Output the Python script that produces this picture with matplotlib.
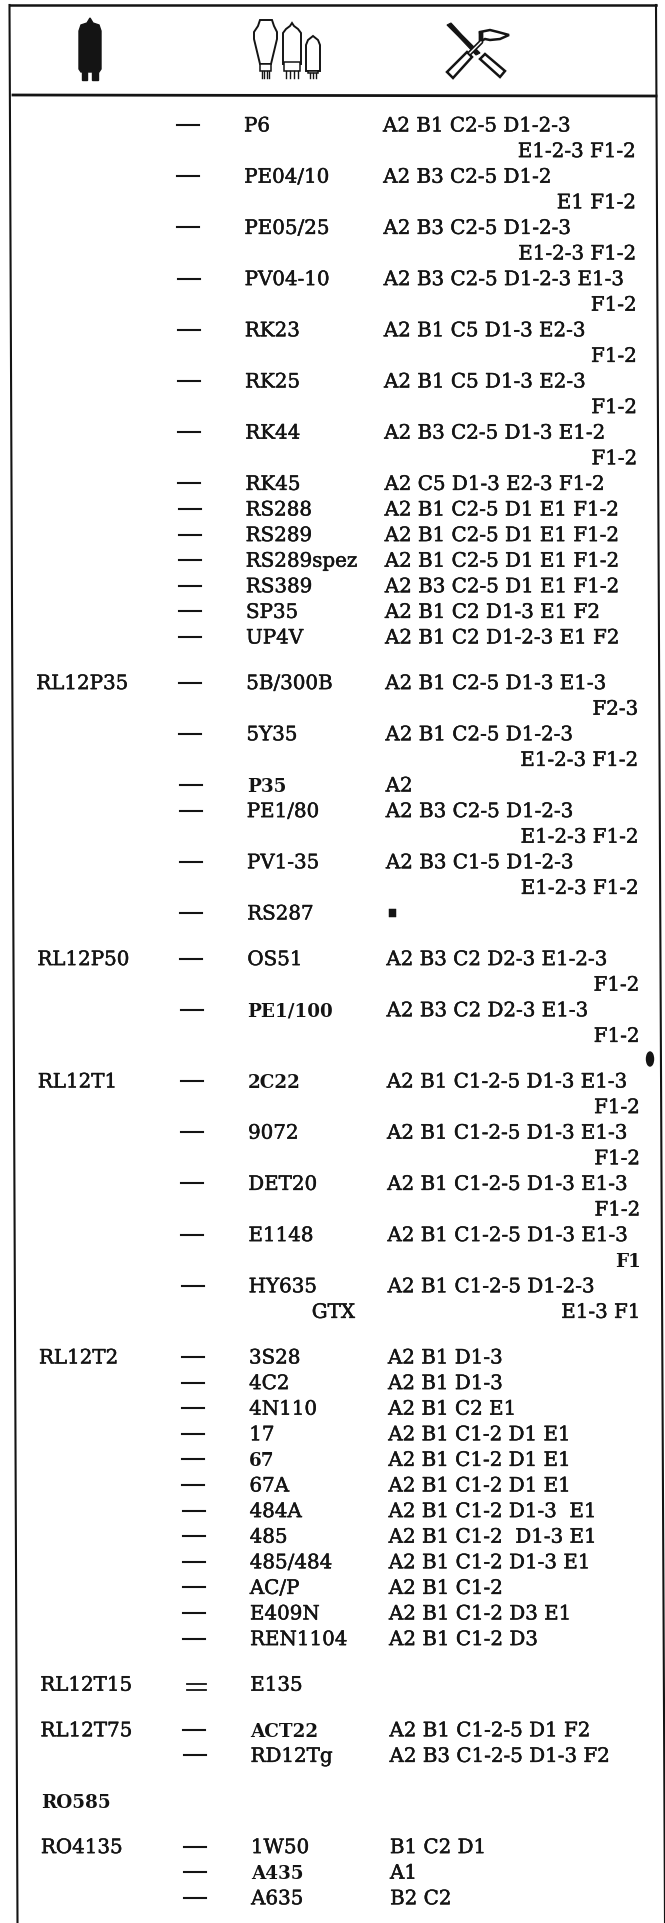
import matplotlib
matplotlib.use('Agg')
import matplotlib.pyplot as plt
from matplotlib.patches import Polygon, FancyBboxPatch, Rectangle, Ellipse
import matplotlib.patheffects as pe

# Table content, one entry per tube
group_labels = ['', '', '', '', '', '', '', '', '', '', '', '', '', '',
                'RL12P35', '', '', '', '', '',
                'RL12P50', '',
                'RL12T1', '', '', '', '',
                'RL12T2', '', '', '', '', '', '', '', '', '', '', '',
                'RL12T15', 'RL12T75', '', 'RO585', 'RO4135', '', '']
tube_names = ['P6', 'PE04/10', 'PE05/25', 'PV04-10', 'RK23', 'RK25', 'RK44', 'RK45',
              'RS288', 'RS289', 'RS289spez', 'RS389', 'SP35', 'UP4V',
              '5B/300B', '5Y35', 'P35', 'PE1/80', 'PV1-35', 'RS287',
              'OS51', 'PE1/100',
              '2C22', '9072', 'DET20', 'E1148', 'HY635',
              '3S28', '4C2', '4N110', '17', '67', '67A', '484A', '485', '485/484',
              'AC/P', 'E409N', 'REN1104',
              'E135', 'ACT22', 'RD12Tg', '', '1W50', 'A435', 'A635']
spec_lines = ['A2 B1 C2-5 D1-2-3', 'A2 B3 C2-5 D1-2', 'A2 B3 C2-5 D1-2-3',
              'A2 B3 C2-5 D1-2-3 E1-3', 'A2 B1 C5 D1-3 E2-3', 'A2 B1 C5 D1-3 E2-3',
              'A2 B3 C2-5 D1-3 E1-2', 'A2 C5 D1-3 E2-3 F1-2', 'A2 B1 C2-5 D1 E1 F1-2',
              'A2 B1 C2-5 D1 E1 F1-2', 'A2 B1 C2-5 D1 E1 F1-2', 'A2 B3 C2-5 D1 E1 F1-2',
              'A2 B1 C2 D1-3 E1 F2', 'A2 B1 C2 D1-2-3 E1 F2',
              'A2 B1 C2-5 D1-3 E1-3', 'A2 B1 C2-5 D1-2-3', 'A2', 'A2 B3 C2-5 D1-2-3',
              'A2 B3 C1-5 D1-2-3', '\u25a0',
              'A2 B3 C2 D2-3 E1-2-3', 'A2 B3 C2 D2-3 E1-3',
              'A2 B1 C1-2-5 D1-3 E1-3', 'A2 B1 C1-2-5 D1-3 E1-3', 'A2 B1 C1-2-5 D1-3 E1-3',
              'A2 B1 C1-2-5 D1-3 E1-3', 'A2 B1 C1-2-5 D1-2-3',
              'A2 B1 D1-3', 'A2 B1 D1-3', 'A2 B1 C2 E1', 'A2 B1 C1-2 D1 E1', 'A2 B1 C1-2 D1 E1',
              'A2 B1 C1-2 D1 E1', 'A2 B1 C1-2 D1-3  E1', 'A2 B1 C1-2  D1-3 E1',
              'A2 B1 C1-2 D1-3 E1', 'A2 B1 C1-2', 'A2 B1 C1-2 D3 E1', 'A2 B1 C1-2 D3',
              '', 'A2 B1 C1-2-5 D1 F2', 'A2 B3 C1-2-5 D1-3 F2', '',
              'B1 C2 D1', 'A1', 'B2 C2']
wrap_lines = ['E1-2-3 F1-2', 'E1 F1-2', 'E1-2-3 F1-2', 'F1-2', 'F1-2', 'F1-2', 'F1-2',
              '', '', '', '', '', '', '',
              'F2-3', 'E1-2-3 F1-2', '', 'E1-2-3 F1-2', 'E1-2-3 F1-2', '',
              'F1-2', 'F1-2',
              'F1-2', 'F1-2', 'F1-2', 'F1', 'E1-3 F1',
              '', '', '', '', '', '', '', '', '', '', '', '',
              '', '', '', '', '', '', '']
second_names = {'HY635': 'GTX'}
bold_tubes = ['P35', 'PE1/100', '2C22', '67', 'ACT22', 'A435']
bold_groups = ['RO585']
double_dash = ['E135']

ROW = 25.6
GAP = 45.6
INK = '#141414'
FONT = 'DejaVu Serif'
FS = 14.3
FS_BOLD = 13.2


def sx(x, y):
    # the scan is slightly rotated, columns drift right going down
    return x + (y - 125) * 0.004


fig = plt.figure(figsize=(6.65, 19.24), dpi=100)
ax = fig.add_axes([0, 0, 1, 1])
ax.set_xlim(0, 665)
ax.set_ylim(1924, 0)
ax.axis('off')


def put(x, y, s, ha='left', bold=False, size=FS):
    t = ax.text(x, y, s, ha=ha, va='center_baseline', family=FONT,
                fontsize=FS_BOLD if bold else size,
                fontweight='bold' if bold else 'normal', color=INK)
    if not bold:
        t.set_path_effects([pe.withStroke(linewidth=0.35, foreground=INK)])
    return t


# frame
ax.plot([10, 656], [6, 6], color=INK, lw=1.8)
ax.plot([13, 656], [96, 97], color=INK, lw=2.0)
ax.plot([9.5, 17.5], [6, 1924], color=INK, lw=1.5)
ax.plot([656, 665], [6, 1924], color=INK, lw=1.5)

# table rows
y = 125.0
for i, tube in enumerate(tube_names):
    label = group_labels[i]
    if label and i > 0:
        y += GAP - ROW
    if label:
        put(sx(34, y), y, label, bold=label in bold_groups)
    if tube:
        x0 = sx(177, y)
        if tube in double_dash:
            ax.plot([x0 + 4, x0 + 23], [y + 1, y + 1], color=INK, lw=1.3)
            ax.plot([x0 + 4, x0 + 23], [y + 7, y + 7], color=INK, lw=1.3)
        else:
            ax.plot([x0, x0 + 22], [y + 1, y + 1], color=INK, lw=1.5)
        put(sx(244, y), y, tube, bold=tube in bold_tubes)
    if spec_lines[i] == '\u25a0':
        put(sx(385, y), y, spec_lines[i], size=7)
    elif spec_lines[i]:
        put(sx(383, y), y, spec_lines[i])
    if wrap_lines[i]:
        y2 = y + ROW
        put(sx(636, y2), y2, wrap_lines[i], ha='right', bold=wrap_lines[i] == 'F1')
        if tube in second_names:
            put(sx(307, y2), y2, second_names[tube])
        y = y2
    y += ROW

# stray ink blob on the scan
ax.add_patch(Ellipse((650, 1060), 7, 14, color=INK))

# header icon: solid tube
ax.add_patch(Polygon([(79, 32), (81, 26), (87, 24), (90, 19), (93, 24), (99, 26), (101, 32),
                      (101, 70), (99, 73), (81, 73), (79, 70)], fc=INK, ec=INK))
ax.add_patch(Rectangle((82, 73), 5, 8, fc=INK, ec=INK))
ax.add_patch(Rectangle((92, 73), 6, 8, fc=INK, ec=INK))


def base_and_pins(left, right, top, base, pins):
    ax.add_patch(Rectangle((left, top), right - left, base - top, fc='white', ec=INK, lw=1.1))
    for k in range(pins):
        px = left + 2 + k * (right - left - 4) / max(pins - 1, 1)
        ax.plot([px, px], [base, 79], color=INK, lw=1.0)


# header icon: three outline tubes
ax.add_patch(Polygon([(260, 21), (272, 21), (274, 27), (277, 33), (277, 40), (271, 65), (260, 65),
                      (254, 40), (254, 33), (258, 27)], fc='white', ec=INK, lw=1.4))
base_and_pins(260, 271, 65, 72, 4)
ax.add_patch(Polygon([(283, 65), (283, 34), (286, 30), (290, 27), (292, 24), (294, 27), (298, 30),
                      (301, 34), (301, 65)], fc='white', ec=INK, lw=1.4))
base_and_pins(284, 300, 63, 72, 4)
ax.add_patch(Polygon([(306, 72), (306, 46), (308, 41), (313, 37), (318, 41), (320, 46), (320, 72)],
                     fc='white', ec=INK, lw=1.4))
base_and_pins(308, 318, 72, 74, 3)

# header icon: screwdriver and soldering iron
ax.add_patch(Polygon([(447, 26), (451, 24), (462, 36), (480, 54), (476, 56), (458, 37)],
                     fc=INK, ec=INK, lw=0.8))
ax.add_patch(Polygon([(480, 60), (485, 55), (505, 72), (500, 78)], fc='white', ec=INK, lw=1.8))
ax.add_patch(Polygon([(447, 73), (467, 53), (472, 58), (453, 79)], fc='white', ec=INK, lw=1.8))
ax.plot([470, 481, 481], [54, 43, 35], color=INK, lw=3.4, solid_joinstyle='round')
ax.plot([470, 481], [54, 43], color='white', lw=1.0)
ax.add_patch(Polygon([(480, 33), (490, 31), (498, 33), (509, 36), (500, 40), (490, 41), (485, 40), (481, 42)],
                     fc='white', ec=INK, lw=1.8))

fig.savefig('out.png', dpi=100)
